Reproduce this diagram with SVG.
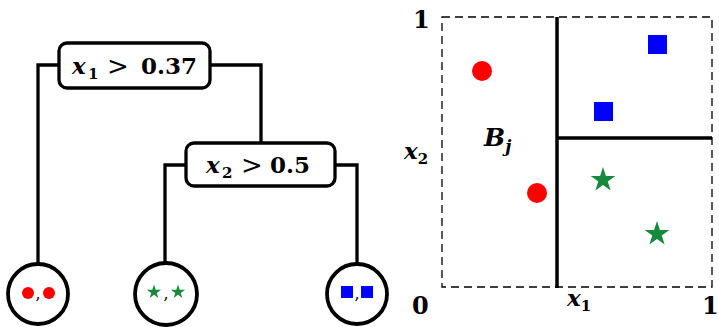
<svg xmlns="http://www.w3.org/2000/svg" width="719" height="327" viewBox="0 0 719 327">
<style>
.edge{fill:none;stroke:#000;stroke-width:3.3}
.box{fill:#fff;stroke:#000;stroke-width:3.3}
.leaf{fill:#fff;stroke:#000;stroke-width:3.8}
.t{font-family:"DejaVu Serif","Liberation Serif",serif;font-weight:bold;fill:#000}
.it{font-style:italic}
.red{fill:#f00}
.blue{fill:#00f}
.green{fill:#168a3c}
.dash{fill:none;stroke:#000;stroke-width:1.3;stroke-dasharray:8 5}
.split{stroke:#000;stroke-width:3.5}
</style>
<defs>
<path id="star" d="M0,-10 L2.245,-3.09 L9.51,-3.09 L3.63,1.18 L5.88,8.09 L0,3.82 L-5.88,8.09 L-3.63,1.18 L-9.51,-3.09 L-2.245,-3.09 Z"/>
</defs>
<g id="connectors">
<path class="edge" d="M59,65 H38 V264"/>
<path class="edge" d="M210,65 H261 V143"/>
<path class="edge" d="M186,165 H165 V263"/>
<path class="edge" d="M335,165 H357 V264"/>
</g>
<g id="node-root">
<rect class="box" x="59" y="43" width="151" height="45" rx="8"/>
<text class="t" font-size="23"><tspan class="it" x="72" y="74">x</tspan><tspan font-size="15" x="88" y="79">1</tspan><tspan x="107" y="75" font-size="26" font-weight="normal">&gt;</tspan><tspan x="141" y="74">0.37</tspan></text>
</g>
<g id="node-split2">
<rect class="box" x="186" y="143" width="149" height="43" rx="8"/>
<text class="t" font-size="23"><tspan class="it" x="206" y="173">x</tspan><tspan font-size="15" x="222" y="178">2</tspan><tspan x="241" y="174" font-size="26" font-weight="normal">&gt;</tspan><tspan x="270" y="173">0.5</tspan></text>
</g>
<g id="leaf-circles">
<circle class="leaf" cx="38" cy="294" r="30"/>
<circle class="red" cx="28" cy="293" r="6"/>
<circle class="red" cx="49" cy="293" r="6"/>
<text x="38" y="299" font-size="16" text-anchor="middle" font-family="DejaVu Serif,serif">,</text>
</g>
<g id="leaf-stars">
<circle class="leaf" cx="166" cy="294" r="31"/>
<use href="#star" class="green" transform="translate(154,292) scale(0.75)"/>
<use href="#star" class="green" transform="translate(178,292) scale(0.75)"/>
<text x="166" y="299" font-size="16" text-anchor="middle" font-family="DejaVu Serif,serif">,</text>
</g>
<g id="leaf-squares">
<circle class="leaf" cx="357" cy="294" r="30"/>
<rect class="blue" x="341" y="286" width="12" height="12"/>
<rect class="blue" x="361" y="286" width="12" height="12"/>
<text x="357" y="299" font-size="16" text-anchor="middle" font-family="DejaVu Serif,serif">,</text>
</g>
<g id="partition">
<rect class="dash" x="442" y="17" width="270" height="270"/>
<line class="split" x1="557" y1="17" x2="557" y2="288"/>
<line class="split" x1="557" y1="138" x2="712" y2="138"/>
<circle class="red" cx="482" cy="71" r="10"/>
<circle class="red" cx="537" cy="193" r="10"/>
<rect class="blue" x="648" y="35" width="19" height="19"/>
<rect class="blue" x="594" y="102" width="19" height="19"/>
<use href="#star" class="green" transform="translate(603,180) scale(1.3)"/>
<use href="#star" class="green" transform="translate(657,234) scale(1.3)"/>
<text class="t" x="413" y="28" font-size="24">1</text>
<text class="t" x="412" y="314" font-size="24">0</text>
<text class="t" x="702" y="314" font-size="24">1</text>
<text class="t" x="567" y="306" font-size="23"><tspan class="it">x</tspan><tspan font-size="15" dy="5">1</tspan></text>
<text class="t" x="404" y="159" font-size="23"><tspan class="it">x</tspan><tspan font-size="15" dy="5">2</tspan></text>
<text class="t" x="484" y="146" font-size="25"><tspan class="it">B</tspan><tspan class="it" font-size="17" dy="6">j</tspan></text>
</g>
</svg>
